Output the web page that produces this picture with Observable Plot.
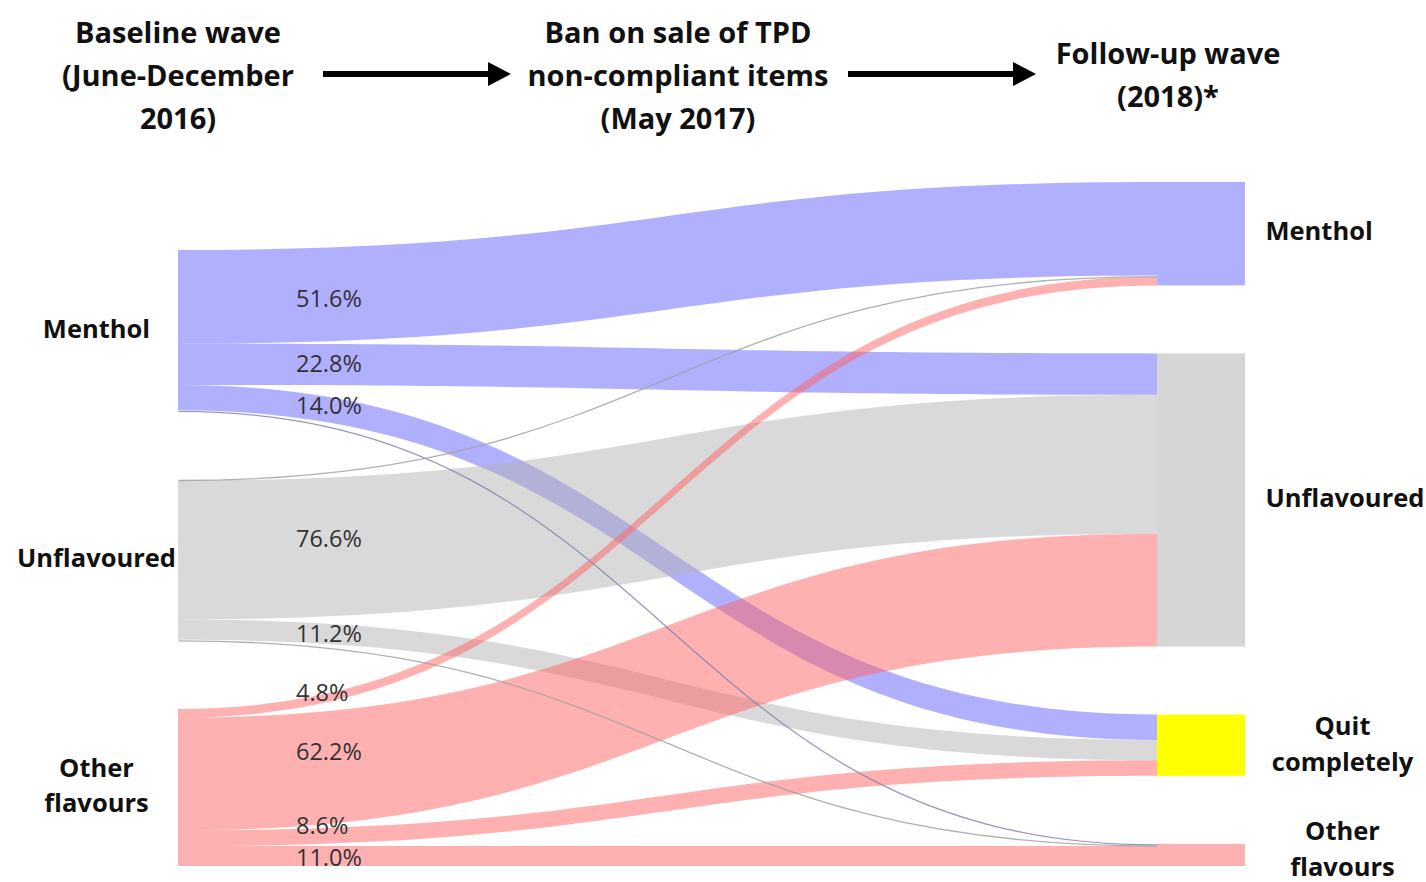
<!DOCTYPE html>
<html><head><meta charset="utf-8">
<script src="https://cdn.jsdelivr.net/npm/d3@7"></script>
<script src="https://cdn.jsdelivr.net/npm/@observablehq/plot@0.6"></script>
<style>
body{margin:0;background:#fff;}
#wrap{width:1426px;}
#header{position:relative;width:1426px;height:150px;font-family:"Open Sans",sans-serif;font-weight:700;font-size:29px;line-height:43px;color:#111;}
#header .t{position:absolute;transform:translateX(-50%);text-align:center;white-space:nowrap;}
#header svg{position:absolute;left:0;top:0;}
</style></head><body>
<div id="wrap"><div id="header"></div><div id="chart"></div></div>
<script>
// ---- data ----
const stageTitles = [
  ["Baseline wave", "(June-December", "2016)"],
  ["Ban on sale of TPD", "non-compliant items", "(May 2017)"],
  ["Follow-up wave", "(2018)*"]
];
const leftNames = ["Menthol", "Unflavoured", "Other flavours"];
const leftLabels = ["Menthol", "Unflavoured", "Other\nflavours"];
const rightNames = ["Menthol", "Unflavoured", "Quit completely", "Other flavours"];
const rightLabels = ["Menthol", "Unflavoured", "Quit\ncompletely", "Other\nflavours"];
const linkSource = ["Menthol", "Menthol", "Menthol", "Menthol",
  "Unflavoured", "Unflavoured", "Unflavoured", "Unflavoured",
  "Other flavours", "Other flavours", "Other flavours", "Other flavours"];
const linkTarget = ["Menthol", "Unflavoured", "Quit completely", "Other flavours",
  "Menthol", "Unflavoured", "Quit completely", "Other flavours",
  "Menthol", "Unflavoured", "Quit completely", "Other flavours"];
const linkValue = [51.6, 22.8, 14.0, 0.6, 0.6, 76.6, 11.2, 0.6, 4.8, 62.2, 8.6, 11.0];
const linkLabel = ["51.6%", "22.8%", "14.0%", "", "", "76.6%", "11.2%", "", "4.8%", "62.2%", "8.6%", "11.0%"];

// ---- styles / layout config ----
const flowColor = {"Menthol": "#6262ff", "Unflavoured": "#b3b3b3", "Other flavours": "#ff6262"};
const thinColor = {"Menthol": "#8686b4", "Unflavoured": "#a2a2a2", "Other flavours": "#e08080"};
const nodeColor = {"Menthol": "#b0b0ff", "Unflavoured": "#d6d6d6", "Quit completely": "#ffff00", "Other flavours": "#ffb0b0"};
// vertical label offsets in pixels (label placement tweaks)
const labelNudgePx = {"51.6%": 5, "22.8%": -1, "14.0%": -4, "76.6%": -8, "11.2%": 0, "4.8%": -4, "62.2%": -15, "8.6%": -10, "11.0%": 2};
const rightLabelNudgePx = [-2, -2, -4, -9];
const NODE_W = 0.0899, GAP = 37.5, THIN = 1, LABEL_X = 0.12, LABEL_F = 0.155;
const PLOT_TOP = 32, PLOT_BOTTOM = 16, PLOT_H = 732;

// ---- header ----
const header = document.getElementById("header");
const titleX = [178, 678, 1168], titleTop = [10, 10, 31];
stageTitles.forEach((lines, i) => {
  const d = document.createElement("div");
  d.className = "t";
  d.style.left = titleX[i] + "px";
  d.style.top = titleTop[i] + "px";
  d.innerHTML = lines.join("<br>");
  header.appendChild(d);
});
header.insertAdjacentHTML("beforeend",
  `<svg width="1426" height="150">
    <line x1="323" y1="74" x2="492" y2="74" stroke="#000" stroke-width="6"/>
    <polygon points="488,62 511,74 488,86" fill="#000"/>
    <line x1="848" y1="74" x2="1017" y2="74" stroke="#000" stroke-width="6"/>
    <polygon points="1013,62 1036,74 1013,86" fill="#000"/>
  </svg>`);

// ---- sankey layout ----
const links = linkValue.map((v, i) => ({id: i, source: linkSource[i], target: linkTarget[i], value: v, label: linkLabel[i]}));
function column(names, key) {
  let y = 0;
  const nodes = names.map((name, i) => {
    const size = d3.sum(links.filter(l => l[key] === name), l => l.value);
    const n = {name, i, size, y0: y, y1: y + size};
    y += size + GAP;
    return n;
  });
  return {nodes, total: y - GAP};
}
const L = column(leftNames, "source"), R = column(rightNames, "target");
const total = Math.max(L.total, R.total);
for (const col of [L, R]) {
  const off = total - col.total;
  col.nodes.forEach(n => { n.y0 += off; n.y1 += off; });
}
for (const n of L.nodes) {
  let y = n.y0;
  for (const t of rightNames) for (const l of links) if (l.source === n.name && l.target === t) { l.sy0 = y; y += l.value; l.sy1 = y; }
}
for (const n of R.nodes) {
  let y = n.y0;
  for (const s of leftNames) for (const l of links) if (l.target === n.name && l.source === s) { l.ty0 = y; y += l.value; l.ty1 = y; }
}
function bumpAt(y0, y1, f) {
  let lo = 0, hi = 1;
  for (let k = 0; k < 40; k++) { const t = (lo + hi) / 2; const x = 1.5 * t - 1.5 * t * t + t * t * t; if (x < f) lo = t; else hi = t; }
  const t = (lo + hi) / 2;
  return y0 + (y1 - y0) * (3 * t * t - 2 * t * t * t);
}
const unitsPerPx = total / (PLOT_H - PLOT_TOP - PLOT_BOTTOM);
const wide = links.filter(l => l.value >= THIN);
const thin = links.filter(l => l.value < THIN);
const areaData = wide.flatMap(l => [
  {id: l.id, source: l.source, x: 0, y1: l.sy0, y2: l.sy1},
  {id: l.id, source: l.source, x: 1, y1: l.ty0, y2: l.ty1}
]);
const labelData = wide.filter(l => l.label).map(l => ({
  label: l.label, x: LABEL_X,
  y: bumpAt((l.sy0 + l.sy1) / 2, (l.ty0 + l.ty1) / 2, LABEL_F) + (labelNudgePx[l.label] || 0) * unitsPerPx
}));
L.nodes.forEach(n => { n.label = leftLabels[n.i]; n.ly = (n.y0 + n.y1) / 2; });
R.nodes.forEach(n => { n.label = rightLabels[n.i]; n.ly = (n.y0 + n.y1) / 2 + rightLabelNudgePx[n.i] * unitsPerPx; });

const plot = Plot.plot({
  width: 1426, height: PLOT_H,
  marginLeft: 178, marginRight: 181, marginTop: PLOT_TOP, marginBottom: PLOT_BOTTOM,
  x: {domain: [0, 1 + NODE_W], axis: null},
  y: {domain: [0, total], reverse: true, axis: null},
  color: {type: "identity"},
  style: {fontFamily: "'Open Sans', sans-serif", background: "white", overflow: "visible"},
  marks: [
    Plot.area(areaData, {x1: "x", y1: "y1", y2: "y2", z: "id", fill: d => flowColor[d.source], fillOpacity: 0.5, curve: "bump-x"}),
    Plot.link(thin, {x1: () => 0, y1: l => (l.sy0 + l.sy1) / 2, x2: () => 1, y2: l => (l.ty0 + l.ty1) / 2,
      stroke: l => thinColor[l.source], strokeWidth: 1.3, strokeOpacity: 0.85, curve: "bump-x"}),
    Plot.rect(R.nodes, {x1: () => 1, x2: () => 1 + NODE_W, y1: "y0", y2: "y1", fill: n => nodeColor[n.name]}),
    Plot.text(labelData, {x: "x", y: "y", text: "label", textAnchor: "start", fontSize: 23.5, fill: "#333"}),
    Plot.text(L.nodes, {x: () => 0, y: "ly", text: "label", dx: -82, dy: -5, textAnchor: "middle",
      fontSize: 25.5, fontWeight: "bold", fill: "#111", lineHeight: 1.4}),
    Plot.text(R.nodes.filter(n => !n.label.includes("\n")), {x: () => 1 + NODE_W, y: "ly", text: "label",
      dx: 20, textAnchor: "start", fontSize: 25.5, fontWeight: "bold", fill: "#111"}),
    Plot.text(R.nodes.filter(n => n.label.includes("\n")), {x: () => 1 + NODE_W, y: "ly", text: "label",
      dx: 97, textAnchor: "middle", fontSize: 25.5, fontWeight: "bold", fill: "#111", lineHeight: 1.42})
  ]
});
document.getElementById("chart").appendChild(plot);
</script>
</body></html>
